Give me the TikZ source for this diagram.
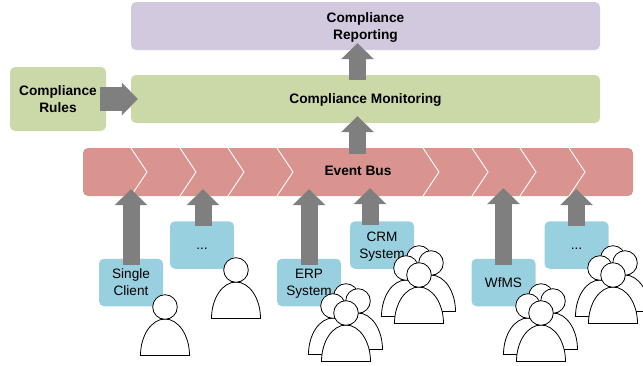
\documentclass[tikz,border=0pt]{standalone}
\usepackage{fontspec}
\setmainfont{Liberation Sans}
\usetikzlibrary{arrows.meta}
\definecolor{purplebox}{HTML}{D2C9DF}
\definecolor{greenbox}{HTML}{CBD9A8}
\definecolor{redbox}{HTML}{D99490}
\definecolor{bluebox}{HTML}{99D0DF}
\definecolor{arrowgray}{HTML}{7F7F7F}
\newcommand{\firstline}{\rule{0pt}{14.5pt}}
\newcommand{\lastline}{\rule[-5pt]{0pt}{5pt}}
\tikzset{
  box/.style={rounded corners=5pt,inner sep=0pt,align=center,font=\fontsize{13.6}{16.7}\selectfont},
  layer/.style={box,font=\bfseries\fontsize{13.7}{16.7}\selectfont},
  source/.style={box,fill=bluebox,minimum width=64pt,minimum height=47.5pt},
  blockarrow/.style={draw=arrowgray,line width=17pt,-{Triangle[length=16pt,width=32pt]}},
  widearrow/.style={draw=arrowgray,line width=24pt,-{Triangle[length=16pt,width=32pt]}},
  chevron/.style={draw=white,line width=0.9pt},
  person/.pic={
    \draw[black,fill=white,line width=0.8pt] (-24.5,48.5) .. controls (-24.5,28.5) and (-13.5,12) .. (0,12) .. controls (13.5,12) and (24.5,28.5) .. (24.5,48.5) -- cycle;
    \draw[black,fill=white,line width=0.8pt] (0,0) circle (12.3pt);
  },
  crowd/.pic={
    \pic at (0,-17) {person};
    \pic at (12,-12) {person};
    \pic at (-13,-7) {person};
    \pic at (0,0) {person};
  }
}
\begin{document}
\begin{tikzpicture}[x=1pt,y=-1pt]
\useasboundingbox (0,0) rectangle (643,365);
\node[layer,fill=purplebox,minimum width=469pt,minimum height=48pt] (report) at (365.5,26) {\firstline Compliance\\Reporting\lastline};
\node[layer,fill=greenbox,minimum width=469pt,minimum height=48pt] (monitor) at (365.5,99) {\firstline Compliance Monitoring\lastline};
\node[layer,fill=greenbox,minimum width=96pt,minimum height=64pt] (rules) at (58,99) {\firstline Compliance\\Rules\lastline};
\node[layer,fill=redbox,minimum width=550pt,minimum height=48pt] (bus) at (358,172) {};
\foreach \cx in {131,180,228,277,423,472,520,569}
  \draw[chevron] (\cx,148) -- (\cx+16,172) -- (\cx,196);
\node[layer] (buslabel) at (358,171) {\firstline Event Bus\lastline};
\node[source] (single) at (131,282.5) {\firstline Single\\Client\lastline};
\node[source] (dots1) at (202,245) {\firstline ...\lastline};
\node[source] (erp) at (309,282.5) {\firstline ERP\\System\lastline};
\node[source] (crm) at (382,245) {\firstline CRM\\System\lastline};
\node[source] (wfms) at (503.5,282.5) {\firstline WfMS\lastline};
\node[source] (dots2) at (576.5,245) {\firstline ...\lastline};
\draw[blockarrow] ([yshift=-6pt]single.north) -- ([yshift=7pt]single.north |- bus.south);
\draw[blockarrow] ([yshift=-5pt,xshift=1pt]dots1.north) -- ([yshift=7pt,xshift=1pt]dots1.north |- bus.south);
\draw[blockarrow] ([yshift=-6pt]erp.north) -- ([yshift=7pt]erp.north |- bus.south);
\draw[blockarrow] ([yshift=-4pt,xshift=-12pt]crm.north) -- ([yshift=8pt,xshift=-12pt]crm.north |- bus.south);
\draw[blockarrow] ([yshift=-6pt]wfms.north) -- ([yshift=8pt]wfms.north |- bus.south);
\draw[blockarrow] ([yshift=-5pt]dots2.north) -- ([yshift=7pt]dots2.north |- bus.south);
\draw[blockarrow] ([yshift=-6pt,xshift=-8pt]bus.north -| monitor.north) -- ([yshift=7pt,xshift=-8pt]monitor.south);
\draw[blockarrow] ([yshift=-5pt,xshift=-8pt]monitor.north) -- ([yshift=7pt,xshift=-8pt]report.south);
\draw[widearrow] ([xshift=-6pt]rules.east) -- ([xshift=7pt]monitor.west |- rules.east);
\pic at (165,307) {person};
\pic at (236,270) {person};
\pic at (419,275) {crowd};
\pic at (346,313) {crowd};
\pic at (541,313) {crowd};
\pic at (613,275) {crowd};
\end{tikzpicture}
\end{document}
